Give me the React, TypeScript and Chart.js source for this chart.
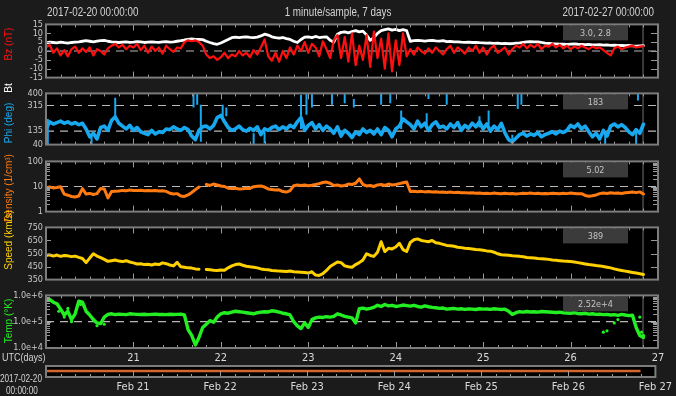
import React, { useEffect, useRef } from 'react';
import { Chart, registerables } from 'chart.js';

Chart.register(...registerables);

// ---------- DATA ----------
// hours since 2017-02-20 00:00 UTC (hourly samples, last sample ~Feb 26 20:50)
const hours: number[] = Array.from({ length: 165 }, (_, i) => i);
const nowHour = 163.9;

const titleLeft = '2017-02-20 00:00:00';
const titleCenter = '1 minute/sample, 7 days';
const titleRight = '2017-02-27 00:00:00';
const dayTickHours = [24, 48, 72, 96, 120, 144, 168];
const dayLabels = ['21', '22', '23', '24', '25', '26', '27'];
const dateLabels = ['Feb 21', 'Feb 22', 'Feb 23', 'Feb 24', 'Feb 25', 'Feb 26', 'Feb 27'];
const latestValues = ['3.0, 2.8', '183', '5.02', '389', '2.52e+4'];
const coverageHours = [0, 163.9];

const bt: number[] = [
  4.5, 5, 4.8, 4.6, 5, 4.7, 4.5, 4.8, 5, 5.2,
  5.5, 5.8, 5.5, 5.2, 5.6, 5.8, 6, 5.5, 5.2, 5,
  4.8, 5, 5.2, 4.9, 5, 5.3, 5.1, 4.8, 5, 5.2,
  5, 4.9, 5.1, 5.3, 5, 5.2, 5.5, 5.8, 6.2, 6.5,
  6.8, 6.5, 6.6, 6.4, 5.5, 4.8, 4.2, 3.8, 4.5, 5.5,
  6.5, 7.5, 7.8, 7.6, 7.8, 8, 7.7, 7.5, 7.8, 8.5,
  9.5, 9, 8, 7.5, 7.2, 7.6, 7, 6.5, 5.5, 4.8,
  6.5, 7.8, 8, 7.5, 8.2, 7.6, 7.8, 8, 6, 5,
  9.5, 10.5, 10.8, 10.2, 11, 11.5, 10.8, 11.2, 9, 6,
  7.5, 10, 11.5, 12, 12.5, 11.8, 12.2, 11.5, 12, 11.5,
  5.5, 5.8, 6, 5.8, 5.6, 5.9, 6, 5.7, 5.6, 5.8,
  5.3, 5.4, 5.1, 5.2, 5, 4.9, 5, 4.8, 4.9, 4.7,
  4.6, 4.4, 4.5, 4.3, 4.4, 4.2, 4.3, 4.1, 4.2, 4.4,
  4.6, 4.9, 5.2, 5.3, 5.1, 5.2, 4.8, 4.5, 4.3, 4.1,
  4.0, 3.9, 3.8, 3.7, 3.9, 4.0, 3.8, 3.7, 3.6, 3.7,
  3.5, 3.4, 3.6, 3.3, 3.4, 3.2, 3.3, 3.1, 3.2, 3.0,
  3.1, 2.9, 2.8, 2.9, 3.0,
];

const bz: number[] = [
  2, 3.5, -1, 1.5, -2.5, 0.5, -3, 1, 2.5, -1,
  1.5, -0.5, 2, -2.5, 1, 0, -2, 1.5, 3, 4,
  2, 3.5, 1, 3, 2, 4, 0.5, 3, -1, 2.5,
  0, 2, -1.5, 3, 1, -0.5, 2, 1.5, 5, 6,
  5.5, 6, 5, 3, -2, -4, -3, -5, -3.5, -1,
  -4, -2, -3, 0, -2.5, -1, -3.5, 0.5, -2, 2,
  6.5, -3, -5.5, -1, -6, 0, -4, 2, -2, 3,
  0, 5, -1, 4, 2, -3, 5.5, 1, -4, 6,
  9, -4, 8, -6, 10, -8, 3, -5, 9, -9,
  11, -4, 7, -10, 10, -11.5, 6, -8, 10, -3,
  1, -2, 2, 0, -1.5, 1.5, -1, 2, 0, -2,
  1, 3, -1, 2, 0.5, -1.5, 2, 0, 3, -1,
  2, -2, 1.5, 3, -1, 0.5, 2, -2, 1, 3,
  2, 4, 1.5, 3.5, 2, 4, 1, 3, 2.5, 4,
  2, 3.5, 1.5, 3, 1, 2.5, 1.5, 3, 2, 1,
  2.5, 1.5, 2, 0.5, -1, -2.5, 1.5, 2.5, 1, 2,
  2.5, 3, 2, 2.5, 2.8,
];

const phi: number[] = [
  150, 200, 185, 195, 205, 190, 200, 185, 195, 180,
  190, 150, 95, 120, 80, 160, 170, 140, 210, 235,
  190, 170, 150, 175, 140, 160, 130, 120, 110, 140,
  115, 130, 125, 150, 145, 165, 150, 140, 160, 145,
  100, 75, 140, 165, 170, 150, 175, 230, 245, 200,
  160, 140, 150, 170, 145, 135, 155, 140, 165, 110,
  150, 140, 160, 170, 145, 165, 150, 175, 160, 200,
  230, 140, 175, 195, 150, 180, 140, 170, 150, 120,
  165, 100, 140, 120, 90, 130, 110, 150, 125, 140,
  115, 150, 110, 160, 140, 95, 150, 170, 220, 200,
  180, 150, 205, 165, 190, 140, 180, 200, 160, 170,
  150, 185, 160, 195, 140, 175, 155, 190, 165, 200,
  150, 185, 135, 170, 145, 190, 120, 75, 60, 85,
  110, 120, 100, 115, 105, 125, 95, 110, 120, 130,
  115, 135, 125, 140, 175, 160, 185, 150, 170, 130,
  95, 120, 80, 140, 100, 170, 185, 165, 180, 160,
  130, 110, 145, 120, 183,
];

// isolated phi excursions: [hour, from deg, to deg]
const phiStreaks: [number, number, number][] = [
  [0.5, 40, 220], [12.5, 40, 110], [19, 225, 370], [40.5, 300, 400], [41.5, 320, 400],
  [42.5, 60, 320], [48.5, 230, 320], [49.5, 240, 300], [57, 40, 120], [60, 50, 130],
  [70, 150, 390], [71.5, 250, 400], [73, 300, 400], [78.5, 320, 395], [82, 330, 400],
  [84.5, 300, 360], [92, 320, 400], [94.5, 330, 400], [97.5, 150, 280], [104.5, 160, 260],
  [105, 360, 400], [110, 320, 400], [119, 160, 240], [121.5, 180, 280], [128, 40, 110],
  [129.5, 290, 400], [130.5, 320, 400], [153.5, 40, 120], [162, 40, 130], [162.5, 350, 400],
];

const density: (number | null)[] = [
  9, 9.5, 8.8, 9.2, 9.8, 5, 4.5, 4, 3.8, 4.2,
  8.2, 5, 5.3, 4.8, 5.2, 8.4, 8, 3.5, 6.3, 6.5,
  6.6, 7, 6.8, 7.2, 7, 6.9, 7.1, 6.8, 6.9, 6.7,
  6.9, 6.6, 6.8, 6.4, 5.4, 5, 5.2, 4.2, 4, 4.6,
  5.8, 7.5, 9.5, null, 12, 11, 12.5, 11.5, 10.5, 10,
  8.6, 8.3, 8.5, 8, 8.2, 8.6, 8.4, 9.8, 10.2, 10.5,
  9.5, 8, 7.6, 7.2, 7.4, 6.3, 6, 6.8, 10.8, 11.5,
  11, 11.5, 10.8, 11.2, 12, 13, 14.5, 15, 13.5, 11,
  11.5, 10.5, 11, 12.5, 12, 13.5, 20, 12, 10.5, 11,
  10, 11.5, 12, 11, 12.5, 11.5, 12, 13, 14, 15,
  6.3, 6.5, 6.2, 6.4, 6.1, 6.3, 6, 6.2, 5.9, 6,
  5.8, 6, 5.7, 5.9, 5.6, 5.7, 5.5, 5.6, 5.4, 5.5,
  5.3, 5.4, 5.2, 5.5, 5.3, 5.1, 5.4, 5.2, 5.3, 5,
  5.2, 5.4, 5.3, 5.5, 5.2, 5.4, 5.1, 5.3, 5.2, 5.4,
  5.3, 5.1, 5.4, 5.2, 5.5, 5.3, 5.1, 5.2, 4.4, 4.1,
  4.3, 4.6, 5.2, 5.5, 5.3, 5.6, 5.4, 5.5, 5.3, 5.6,
  5.8, 6, 5.7, 6.1, 5.02,
];

const speed: (number | null)[] = [
  535, 540, 530, 538, 528, 535, 532, 526, 530, 520,
  512, 480, 515, 548, 530, 518, 505, 490, 495, 500,
  492, 488, 495, 485, 478, 470, 472, 465, 468, 462,
  470, 465, 478, 472, 462, 455, 482, 448, 445, 440,
  438, 432, 430, null, 428, 425, 422, 420, 424, 422,
  440, 455, 465, 470, 460, 452, 448, 445, 440, 432,
  428, 425, 420, 418, 415, 414, 412, 416, 410, 408,
  406, 404, 400, 410, 385, 382, 395, 420, 450, 468,
  485, 480, 455, 448, 445, 465, 480, 500, 548, 535,
  528, 560, 640, 565, 590, 585, 600, 628, 580, 565,
  635, 655, 662, 650, 645, 640, 650, 632, 628, 620,
  612, 610, 605, 598, 595, 590, 588, 585, 580, 578,
  575, 570, 568, 560, 548, 540, 538, 536, 532, 530,
  528, 525, 520, 518, 515, 512, 510, 508, 505, 500,
  498, 495, 492, 490, 488, 485, 480, 475, 470, 465,
  462, 458, 455, 450, 445, 440, 432, 425, 420, 415,
  410, 405, 400, 395, 389,
];

const temp: number[] = [
  650000, 700000, 550000, 480000, 300000, 180000, 250000, 120000, 200000, 600000,
  550000, 250000, 180000, 120000, 90000, 85000, 150000, 190000, 200000, 185000,
  195000, 190000, 185000, 200000, 195000, 190000, 188000, 192000, 185000, 190000,
  195000, 188000, 190000, 185000, 192000, 188000, 190000, 195000, 180000, 50000,
  30000, 13000, 25000, 60000, 80000, 110000, 95000, 150000, 200000, 220000,
  210000, 230000, 250000, 240000, 230000, 220000, 210000, 200000, 220000, 230000,
  240000, 235000, 260000, 250000, 230000, 210000, 200000, 180000, 100000, 70000,
  55000, 90000, 60000, 120000, 140000, 150000, 145000, 155000, 150000, 160000,
  200000, 180000, 160000, 150000, 140000, 90000, 310000, 330000, 300000, 320000,
  350000, 420000, 380000, 450000, 400000, 420000, 380000, 400000, 430000, 410000,
  390000, 420000, 380000, 360000, 400000, 370000, 350000, 340000, 320000, 330000,
  300000, 310000, 320000, 300000, 310000, 295000, 305000, 300000, 290000, 310000,
  300000, 305000, 295000, 310000, 300000, 290000, 300000, 250000, 190000, 220000,
  240000, 230000, 245000, 235000, 240000, 230000, 245000, 240000, 235000, 230000,
  225000, 230000, 220000, 215000, 210000, 220000, 205000, 200000, 210000, 195000,
  200000, 190000, 195000, 185000, 190000, 180000, 185000, 175000, 190000, 180000,
  170000, 175000, 60000, 30000, 25200,
];

// scattered temperature samples: [hour, K]
const tempDots: [number, number][] = [
  [3.5, 250000], [5, 150000], [6, 320000], [7, 100000], [9.5, 450000], [10.5, 380000],
  [14, 70000], [16, 80000], [153, 40000], [154, 45000], [156, 90000], [157, 120000],
  [163, 150000], [163.5, 40000], [164, 30000],
];

// ---------- STYLE ----------
const CANVAS_FONT = '"DejaVu Sans Condensed", "Liberation Sans", sans-serif';
const WIDE = '"Liberation Sans", Arial, sans-serif';
const BG = '#1b1b1b';
const C_BZ = '#ff1010';
const C_BT = '#ffffff';
const C_PHI = '#18a8f0';
const C_DEN = '#ff7a10';
const C_SPD = '#ffd000';
const C_TMP = '#22ee22';
const C_REF = '#b8b8b8';

const pts = (ys: (number | null)[]) => ys.map((y, i) => ({ x: hours[i], y }));
const refLine = (v: number) => ({
  data: [{ x: 0, y: v }, { x: 168, y: v }],
  borderColor: C_REF, borderWidth: 1.2, borderDash: [8, 6], pointRadius: 0,
});
const nowLine = (lo: number, hi: number) => ({
  data: [{ x: nowHour, y: lo }, { x: nowHour, y: hi }],
  borderColor: '#3a3a3a', borderWidth: 2, pointRadius: 0,
});
const series = (ys: (number | null)[], color: string, w: number) => ({
  data: pts(ys), borderColor: color, borderWidth: w, pointRadius: 0, spanGaps: false,
  borderJoinStyle: 'round', borderCapStyle: 'round',
});

const decor = {
  id: 'decor',
  beforeDraw(chart: any) {
    const { ctx, chartArea: a } = chart;
    ctx.save();
    ctx.fillStyle = '#000';
    ctx.fillRect(a.left, a.top, a.right - a.left, a.bottom - a.top);
    ctx.restore();
  },
  afterDatasetsDraw(chart: any, _args: any, o: any) {
    const { ctx, chartArea: a, scales } = chart;
    const xs = scales.x;
    ctx.save();
    ctx.strokeStyle = '#9a9a9a';
    ctx.lineWidth = 1;
    ctx.beginPath();
    for (let h = 4; h < 168; h += 4) {
      const px = Math.round(xs.getPixelForValue(h)) + 0.5;
      const len = h % 24 === 0 ? 6 : 3;
      ctx.moveTo(px, a.bottom);
      ctx.lineTo(px, a.bottom - len);
      if (o.topTicks) {
        ctx.moveTo(px, a.top);
        ctx.lineTo(px, a.top + len);
      }
    }
    const ys = scales.y;
    (o.major || []).forEach((v: number) => {
      const py = Math.round(ys.getPixelForValue(v)) + 0.5;
      ctx.moveTo(a.left, py); ctx.lineTo(a.left + 5, py);
      ctx.moveTo(a.right, py); ctx.lineTo(a.right - 7, py);
    });
    (o.minor || []).forEach((v: number) => {
      const py = Math.round(ys.getPixelForValue(v)) + 0.5;
      ctx.moveTo(a.left, py); ctx.lineTo(a.left + 4, py);
      ctx.moveTo(a.right, py); ctx.lineTo(a.right - 5, py);
    });
    ctx.stroke();
    if (o.value) {
      const bx = a.right - 95, by = a.top + 1, bw = 65, bh = 15;
      ctx.fillStyle = '#3b3b3b';
      ctx.fillRect(bx, by, bw, bh);
      ctx.fillStyle = '#c4c4c4';
      ctx.font = `9px ${CANVAS_FONT}`;
      ctx.textAlign = 'center';
      ctx.textBaseline = 'middle';
      ctx.fillText(o.value, bx + bw / 2, by + bh / 2 + 0.5);
    }
    ctx.strokeStyle = '#7c7c7c';
    ctx.lineWidth = 2;
    ctx.strokeRect(a.left, a.top, a.right - a.left, a.bottom - a.top);
    ctx.restore();
  },
};

type Spec = {
  top: number; h: number;
  yType?: 'linear' | 'logarithmic'; yMin?: number; yMax?: number; yTicks?: number[];
  fmt?: (v: number) => string; major?: number[]; minor?: number[];
  value?: string; xLabels?: string[]; datasets: any[]; topTicks: boolean;
};

const logMinor = (d0: number, d1: number) => {
  const out: number[] = [];
  for (let d = d0; d < d1; d++) for (let k = 2; k <= 9; k++) out.push(k * Math.pow(10, d));
  return out;
};

const specs: Spec[] = [
  {
    top: 23, h: 56, yType: 'linear', yMin: -15, yMax: 15, yTicks: [-15, -10, -5, 0, 5, 10, 15],
    fmt: (v) => String(v), major: [-10, -5, 0, 5, 10], value: latestValues[0], topTicks: true,
    datasets: [series(bz, C_BZ, 2.2), series(bt, C_BT, 2.8), refLine(0), nowLine(-15, 15)],
  },
  {
    top: 92, h: 54, yType: 'linear', yMin: 40, yMax: 400, yTicks: [40, 135, 315, 400],
    fmt: (v) => String(v), major: [], value: latestValues[1], topTicks: true,
    datasets: [
      series(phi, C_PHI, 3.6),
      {
        data: phiStreaks.flatMap(([h, a, b]) => [{ x: h, y: a }, { x: h, y: b }, { x: h, y: null }]),
        borderColor: C_PHI, borderWidth: 2, pointRadius: 0, spanGaps: false,
      },
      refLine(135), refLine(315), nowLine(40, 400),
    ],
  },
  {
    top: 160, h: 53, yType: 'logarithmic', yMin: 1, yMax: 100, yTicks: [1, 10, 100],
    fmt: (v) => String(v), major: [10], minor: logMinor(0, 2), value: latestValues[2], topTicks: true,
    datasets: [series(density, C_DEN, 3), refLine(10), nowLine(1, 100)],
  },
  {
    top: 226, h: 55, yType: 'linear', yMin: 350, yMax: 750, yTicks: [350, 450, 550, 650, 750],
    fmt: (v) => String(v), major: [450, 550, 650], value: latestValues[3], topTicks: true,
    datasets: [series(speed, C_SPD, 3), nowLine(350, 750)],
  },
  {
    top: 294, h: 54, yType: 'logarithmic', yMin: 1e4, yMax: 1e6, yTicks: [1e4, 1e5, 1e6],
    fmt: (v) => Number(v).toExponential(1), major: [1e5], minor: logMinor(4, 6), value: latestValues[4],
    xLabels: dayLabels, topTicks: true,
    datasets: [
      series(temp, C_TMP, 3.4),
      {
        data: tempDots.map(([x, y]) => ({ x, y })), showLine: false, pointRadius: 1.6,
        pointBackgroundColor: C_TMP, pointBorderWidth: 0, borderColor: C_TMP,
      },
      refLine(1e5), nowLine(1e4, 1e6),
    ],
  },
  {
    top: 366, h: 11, xLabels: dateLabels, topTicks: false,
    datasets: [{
      data: coverageHours.map((x) => ({ x, y: 0.55 })), borderColor: '#d2662e', borderWidth: 2.5, pointRadius: 0,
    }],
  },
];

const canvasTop = (s: Spec) => s.top - 7;
const canvasH = (s: Spec) => s.h + 7 + (s.xLabels ? 20 : 7);

function buildConfig(s: Spec): any {
  const xScale: any = {
    type: 'linear', min: 0, max: 168, display: !!s.xLabels,
    afterBuildTicks: (sc: any) => { sc.ticks = dayTickHours.map((v) => ({ value: v })); },
    grid: { display: false, drawTicks: false }, border: { display: false },
    ticks: {
      color: '#dadada', font: { family: CANVAS_FONT, size: 11 }, padding: 4, autoSkip: false, maxRotation: 0,
      callback: (_v: any, i: number) => (s.xLabels ? s.xLabels[i] : ''),
    },
  };
  if (s.xLabels) xScale.afterFit = (sc: any) => { sc.height = 20; };
  const scales: any = {
    x: xScale,
    y: s.yType
      ? {
          type: s.yType, min: s.yMin, max: s.yMax,
          afterFit: (sc: any) => { sc.width = 46; },
          afterBuildTicks: (sc: any) => { sc.ticks = (s.yTicks || []).map((v) => ({ value: v })); },
          grid: { display: false, drawTicks: false }, border: { display: false },
          ticks: {
            color: '#c8c8c8', font: { family: CANVAS_FONT, size: 9 }, padding: 3, autoSkip: false,
            callback: (v: any) => (s.fmt ? s.fmt(Number(v)) : String(v)),
          },
        }
      : { type: 'linear', min: 0, max: 1, display: false },
  };
  return {
    type: 'line',
    data: { datasets: s.datasets },
    options: {
      animation: false, responsive: false, maintainAspectRatio: false, events: [],
      layout: { padding: { top: 7, bottom: s.xLabels ? 0 : 7, left: s.yType ? 0 : 46, right: 18 } },
      plugins: {
        legend: { display: false }, tooltip: { enabled: false },
        decor: { major: s.major, minor: s.minor, value: s.value, topTicks: s.topTicks },
      },
      elements: { point: { radius: 0 }, line: { tension: 0 } },
      scales,
    },
    plugins: [decor],
  };
}

const rot = (text: string, cx: number, cy: number, color: string) => (
  <div
    key={text}
    style={{
      position: 'absolute', left: cx, top: cy, transform: 'translate(-50%, -50%) rotate(-90deg)',
      whiteSpace: 'nowrap', font: `10px ${WIDE}`, color, lineHeight: '12px',
    }}
  >
    {text}
  </div>
);

export default function App() {
  const refs = useRef<(HTMLCanvasElement | null)[]>([]);
  useEffect(() => {
    const charts = specs.map((s, i) => new Chart(refs.current[i] as HTMLCanvasElement, buildConfig(s)));
    return () => charts.forEach((c) => c.destroy());
  }, []);

  // horizontal texts: Arial-like face, horizontally condensed like the reference
  const txt = (style: React.CSSProperties, t: string, size: number, origin: string) => (
    <div
      style={{
        position: 'absolute', whiteSpace: 'nowrap', font: `${size}px ${WIDE}`, color: '#d4d4d4',
        lineHeight: `${size + 2}px`, transform: 'scaleX(0.82)', transformOrigin: origin, ...style,
      }}
    >
      {t}
    </div>
  );

  return (
    <div style={{ position: 'fixed', left: 0, top: 0, width: 676, height: 396, background: BG, overflow: 'hidden' }}>
      {specs.map((s, i) => (
        <canvas
          key={i}
          ref={(el) => { refs.current[i] = el; }}
          width={676}
          height={canvasH(s)}
          style={{ position: 'absolute', left: 0, top: canvasTop(s), width: 676, height: canvasH(s) }}
        />
      ))}
      {txt({ left: 47, top: 5 }, titleLeft, 12, 'left center')}
      {txt({ left: 238, top: 5, width: 200, textAlign: 'center' }, titleCenter, 12, 'center center')}
      {txt({ left: 454, top: 5, width: 200, textAlign: 'right' }, titleRight, 12, 'right center')}
      {txt({ left: 2, top: 351 }, 'UTC(days)', 11, 'left center')}
      {txt({ left: 0, top: 373 }, '2017-02-20', 10, 'left center')}
      {txt({ left: 6, top: 385 }, '00:00:00', 10, 'left center')}
      {rot('Bz (nT)', 9, 44, C_BZ)}
      {rot('Bt', 9, 88, C_BT)}
      {rot('Phi (deg)', 9, 123, C_PHI)}
      {rot('Density (1/cm³)', 9, 188, C_DEN)}
      {rot('Speed (km/s)', 9, 240, C_SPD)}
      {rot('Temp (°K)', 9, 321, C_TMP)}
    </div>
  );
}
